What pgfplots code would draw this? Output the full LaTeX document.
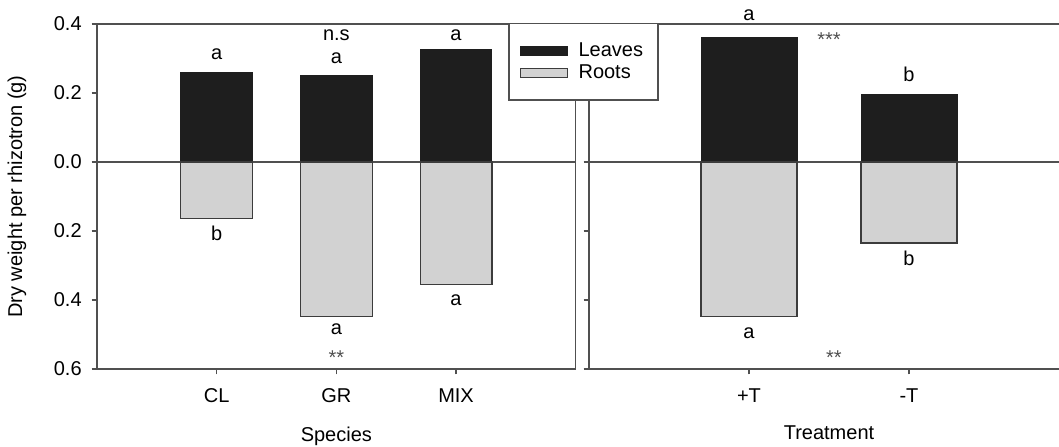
\documentclass[border=0pt]{standalone}
\usepackage{pgfplots}
\pgfplotsset{compat=1.18}
\usepackage{fontspec}
\setmainfont{Liberation Sans}
\definecolor{leafc}{RGB}{30,30,30}
\definecolor{rootc}{RGB}{210,210,210}
\definecolor{axc}{RGB}{80,80,80}
\definecolor{edgec}{RGB}{60,60,60}
\newcommand{\tf}{\fontsize{10}{12}\selectfont}
\newcommand{\lf}{\fontsize{10}{12}\selectfont}
\newcommand{\af}{\fontsize{10}{12}\selectfont}
\tikzset{ast/.style={font=\af, text=axc, anchor=base}}
\pgfplotsset{
  panel/.style={
    scale only axis, height=172.5pt,
    ymin=-0.6, ymax=0.4,
    ytick={-0.6,-0.4,-0.2,0,0.2,0.4},
    xtick=data,
    tick align=outside, tick pos=left,
    major tick length=2.65pt,
    axis line style={axc, line width=0.6pt},
    tick style={axc, line width=0.6pt},
    /pgf/number format/assume math mode=true,
    ticklabel style={font=\tf},
    xticklabel style={yshift=-3.5pt},
    yticklabel style={xshift=-1.5pt},
    label style={font=\lf},
    clip=false,
    ybar, bar width=0.6,
  },
  leafbar/.style={fill=leafc, draw=leafc, line width=0.5pt, bar shift=0pt},
  rootbar/.style={fill=rootc, draw=edgec, line width=0.6pt, bar shift=0pt},
}
\begin{document}
\begin{tikzpicture}
\begin{axis}[panel,
  at={(48.5pt,38.5pt)}, anchor=south west, width=239.35pt,
  xmin=-1, xmax=3,
  xticklabels={CL,GR,MIX},
  yticklabels={0.6,0.4,0.2,0.0,0.2,0.4},
  xlabel={Species},
  xlabel style={at={(axis description cs:0.5,-0.195)}, anchor=center},
  ylabel={Dry weight per rhizotron (g)},
  ylabel style={at={(axis description cs:-0.167,0.5)}, anchor=center},
]
\draw[axc, line width=0.6pt] (axis cs:-1,0) -- (axis cs:3,0);
\addplot[leafbar] coordinates {(0,0.26) (1,0.25) (2,0.325)};
\addplot[rootbar] coordinates {(0,-0.163) (1,-0.447) (2,-0.356)};
\node[font=\lf] at (axis cs:0,0.313) {a};
\node[font=\lf] at (axis cs:1,0.368) {n.s};
\node[font=\lf] at (axis cs:1,0.301) {a};
\node[font=\lf] at (axis cs:2,0.368) {a};
\node[font=\lf] at (axis cs:0,-0.206) {b};
\node[font=\lf] at (axis cs:1,-0.484) {a};
\node[ast] at (axis cs:1,-0.587) {**};
\node[font=\lf] at (axis cs:2,-0.402) {a};
\end{axis}
\begin{axis}[panel,
  at={(294.5pt,38.5pt)}, anchor=south west, width=240pt,
  xmin=-1, xmax=2,
  xticklabels={+T,-T},
  yticklabels={},
  xlabel={Treatment},
  xlabel style={at={(axis description cs:0.5,-0.185)}, anchor=center},
  legend style={at={(axis description cs:-0.168,1.003)}, anchor=north west,
    draw=axc, fill=white, line width=0.6pt, font=\lf, inner xsep=5.5pt, inner ysep=7.5pt,
    row sep=-1.5pt, cells={anchor=west}},
  legend image code/.code={\draw[#1] (0pt,-2.2pt) rectangle (23.5pt,2.2pt); \path[draw=none,fill=none] (0pt,0pt) -- (27pt,0pt);},
]
\draw[axc, line width=0.6pt] (axis cs:-1,0) -- (axis cs:2,0);
\addplot[leafbar] coordinates {(0,0.36) (1,0.197)};
\addlegendentry{Leaves}
\addplot[rootbar] coordinates {(0,-0.447) (1,-0.235)};
\addlegendentry{Roots}
\node[font=\lf] at (axis cs:0,0.426) {a};
\node[ast] at (axis cs:0.5,0.335) {***};
\node[font=\lf] at (axis cs:1,0.255) {b};
\node[font=\lf] at (axis cs:0,-0.496) {a};
\node[ast] at (axis cs:0.53,-0.587) {**};
\node[font=\lf] at (axis cs:1,-0.278) {b};
\end{axis}
\pgfresetboundingbox
\path[use as bounding box] (0,0) rectangle (529.5pt,223pt);
\end{tikzpicture}
\end{document}
